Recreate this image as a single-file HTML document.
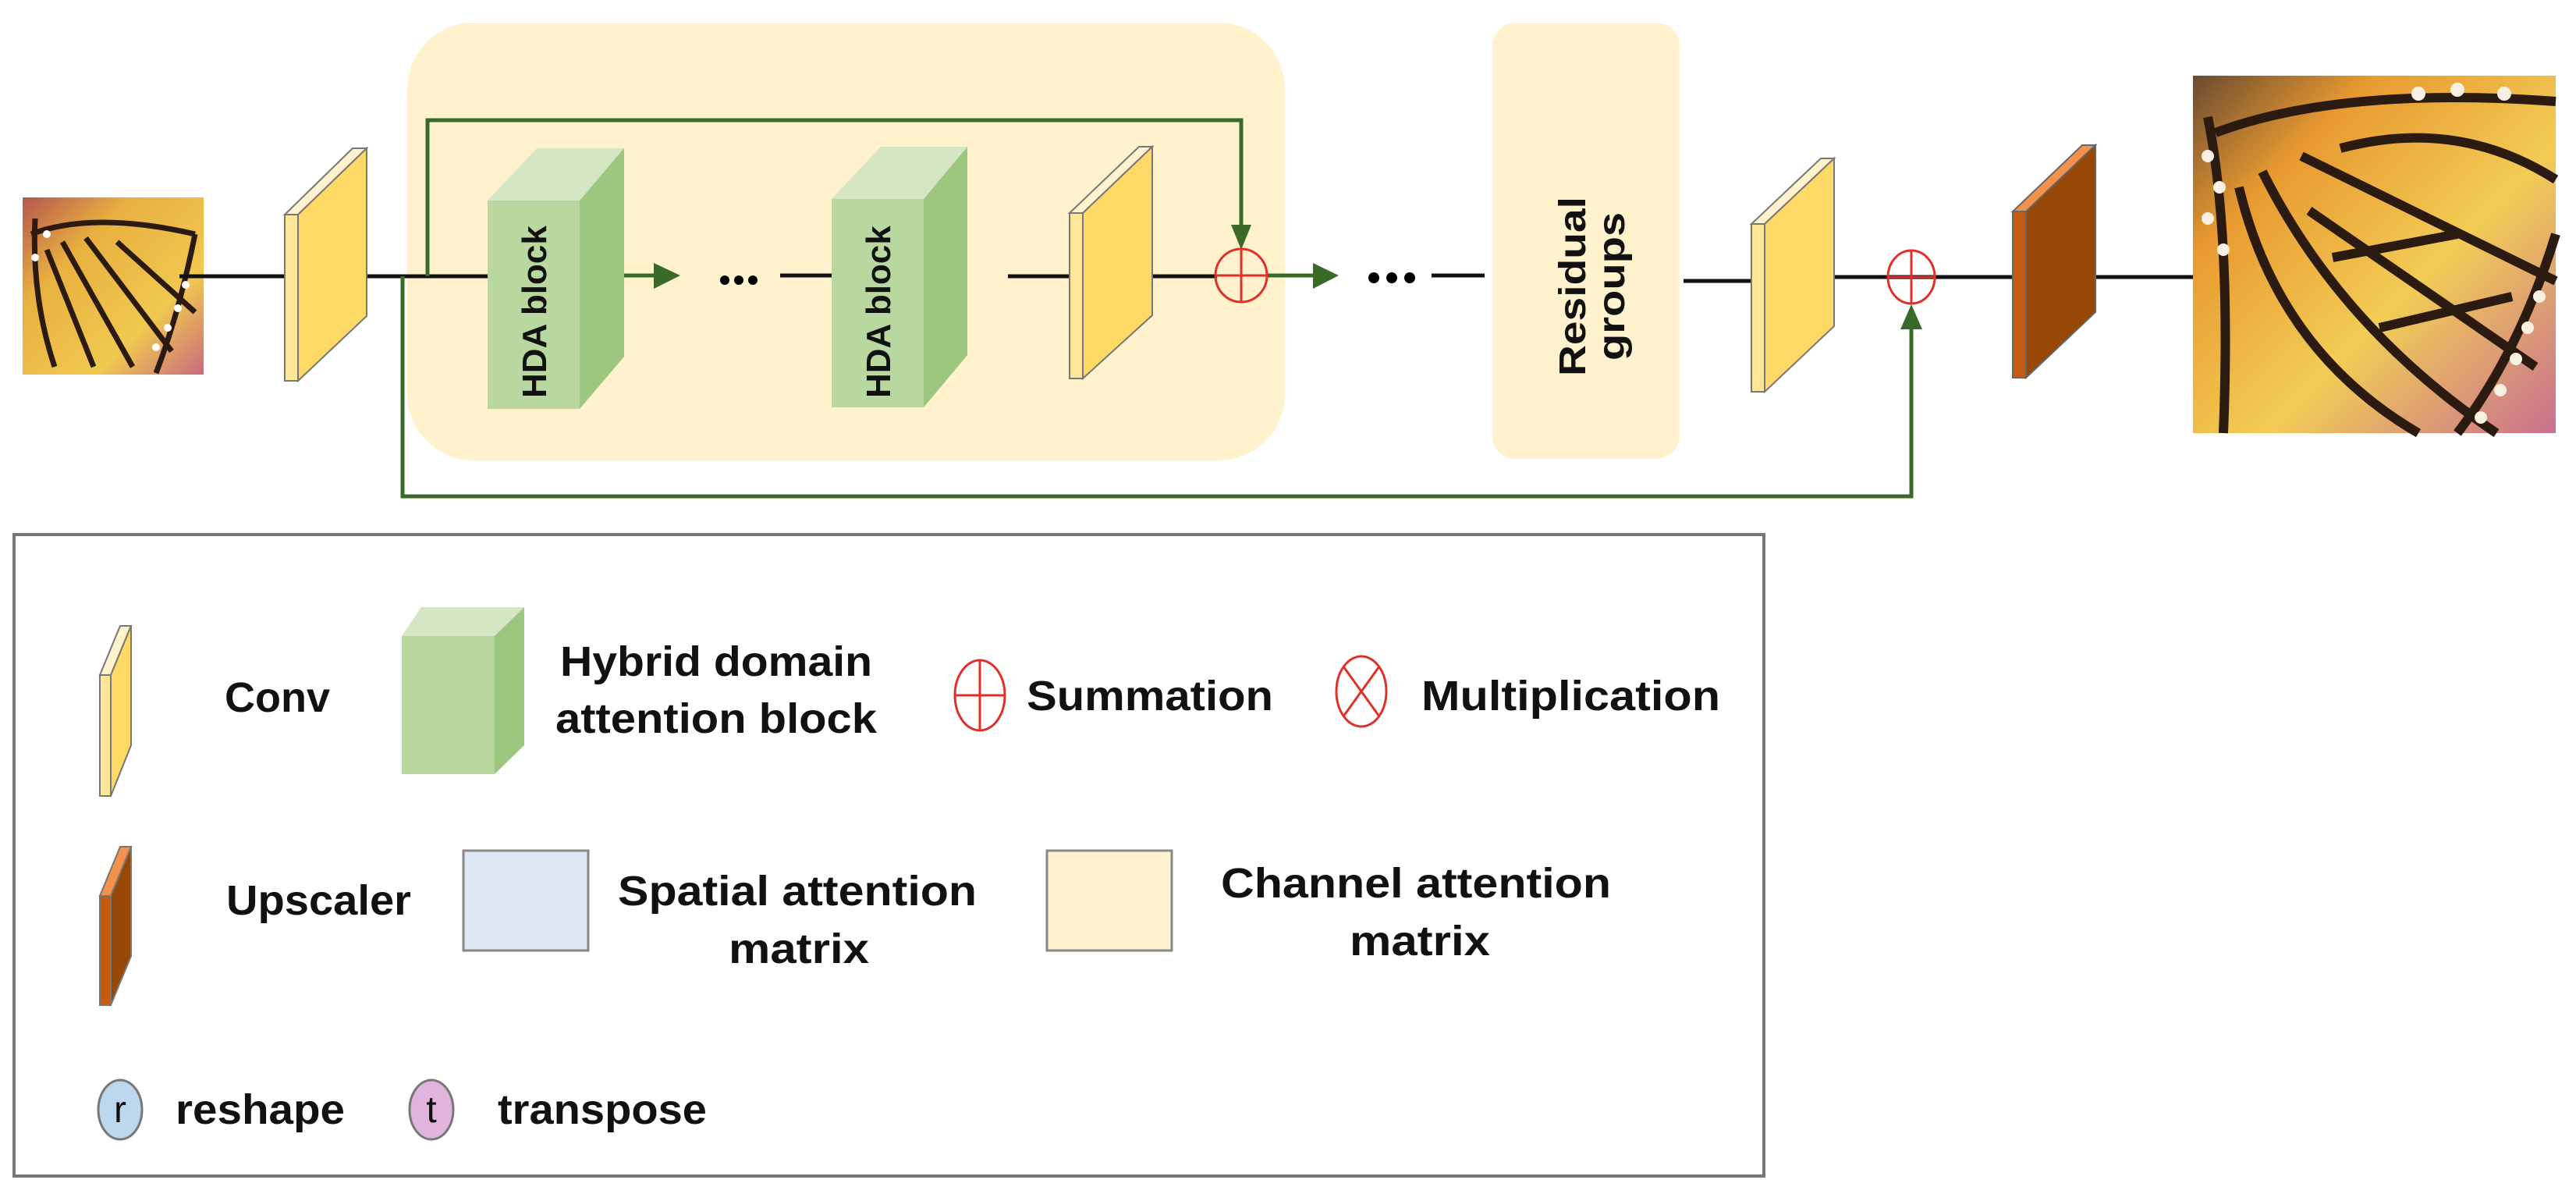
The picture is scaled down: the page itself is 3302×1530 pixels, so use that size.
<!DOCTYPE html>
<html><head><meta charset="utf-8"><style>html,body{margin:0;padding:0;background:#fff}svg{display:block}</style></head>
<body>
<svg width="3302" height="1530" viewBox="0 0 3302 1530" xmlns="http://www.w3.org/2000/svg" font-family="Liberation Sans, Arial, sans-serif" font-weight="bold">
<defs>
<linearGradient id="bf1" x1="0" y1="0" x2="1" y2="1"><stop offset="0" stop-color="#b6564e"/><stop offset="0.3" stop-color="#e8b040"/><stop offset="0.7" stop-color="#f0c850"/><stop offset="1" stop-color="#c86a80"/></linearGradient>
<linearGradient id="bf2" x1="0" y1="0" x2="1" y2="1"><stop offset="0" stop-color="#6a4a30"/><stop offset="0.25" stop-color="#e89a30"/><stop offset="0.6" stop-color="#f2cc55"/><stop offset="1" stop-color="#c87090"/></linearGradient>
</defs>
<rect x="522" y="29" width="1125" height="561" rx="85" fill="#fff2cc"/>
<rect x="1913" y="29" width="240" height="559" rx="30" fill="#fff2cc"/>

<rect x="29" y="253" width="232" height="227" fill="url(#bf1)"/>
<g stroke="#2a1a10" stroke-width="7" fill="none">
<path d="M40 300 Q120 270 250 300"/><path d="M60 320 L120 470"/><path d="M80 310 L170 470"/><path d="M110 305 L220 450"/><path d="M150 310 L250 400"/><path d="M45 280 Q40 380 70 470"/><path d="M250 300 Q230 400 200 478"/>
</g>
<g fill="#fff"><circle cx="215" cy="420" r="5"/><circle cx="228" cy="395" r="5"/><circle cx="238" cy="365" r="5"/><circle cx="200" cy="445" r="5"/><circle cx="60" cy="300" r="5"/><circle cx="45" cy="330" r="5"/></g>

<rect x="2811" y="97" width="465" height="458" fill="url(#bf2)"/>
<g stroke="#2a1a10" stroke-width="12" fill="none">
<path d="M2840 170 Q3000 110 3276 130"/><path d="M2870 240 Q2920 450 3100 555"/><path d="M2900 220 Q3000 420 3200 555"/><path d="M2950 200 L3276 360"/><path d="M2960 270 L3250 470"/><path d="M3000 190 Q3150 150 3276 230"/><path d="M2830 150 Q2860 300 2850 555"/><path d="M3276 300 Q3230 450 3150 555"/><path d="M2990 330 L3150 300"/><path d="M3050 420 L3220 380"/>
</g>
<g fill="#f8f0e0"><circle cx="2830" cy="200" r="8"/><circle cx="2845" cy="240" r="8"/><circle cx="2830" cy="280" r="8"/><circle cx="2850" cy="320" r="8"/><circle cx="3240" cy="420" r="8"/><circle cx="3225" cy="460" r="8"/><circle cx="3205" cy="500" r="8"/><circle cx="3180" cy="535" r="8"/><circle cx="3255" cy="380" r="8"/><circle cx="3100" cy="120" r="9"/><circle cx="3150" cy="115" r="9"/><circle cx="3210" cy="120" r="9"/></g>

<g stroke="#111" stroke-width="5">
<line x1="230" y1="354" x2="365" y2="354"/>
<line x1="428" y1="354" x2="625" y2="354"/>
<line x1="1000" y1="353" x2="1066" y2="353"/>
<line x1="1292" y1="354" x2="1372" y2="354"/>
<line x1="1420" y1="354" x2="1560" y2="354"/>
<line x1="1835" y1="353" x2="1903" y2="353"/>
<line x1="2158" y1="360" x2="2250" y2="360"/>
<line x1="2318" y1="355" x2="2580" y2="355"/>
<line x1="2645" y1="355" x2="2811" y2="355"/>
</g>
<g fill="#000"><circle cx="929" cy="359" r="6"/><circle cx="947" cy="359" r="6"/><circle cx="965" cy="359" r="6"/><circle cx="1761" cy="356" r="7"/><circle cx="1784" cy="356" r="7"/><circle cx="1807" cy="356" r="7"/></g>

<g stroke="#3a6a28" stroke-width="5" fill="none">
<polyline points="548,354 548,154 1591,154 1591,290"/>
<polyline points="516,354 516,636 2450,636 2450,420"/>
<line x1="1624" y1="353" x2="1690" y2="353"/>
<line x1="743" y1="353" x2="840" y2="353"/>
</g>
<g fill="#3a6a28">
<polygon points="1578,288 1604,288 1591,320"/>
<polygon points="1683,337 1683,370 1716,353"/>
<polygon points="838,337 838,370 872,353"/>
<polygon points="2436,422 2464,422 2450,390"/>
</g>

<g stroke="#777" stroke-width="2">
<polygon points="365,275 382,275 470,190 452,190" fill="#fff2cc"/>
<polygon points="382,275 470,190 470,405 382,488" fill="#ffd966"/>
<rect x="365" y="275" width="17" height="213" fill="#ffe699"/>
</g>
<g stroke="#777" stroke-width="2">
<polygon points="1371,273 1388,273 1477,188 1460,188" fill="#fff2cc"/>
<polygon points="1388,273 1477,188 1477,404 1388,485" fill="#ffd966"/>
<rect x="1371" y="273" width="17" height="212" fill="#ffe699"/>
</g>
<g stroke="#777" stroke-width="2">
<polygon points="2245,287 2262,287 2351,203 2334,203" fill="#fff2cc"/>
<polygon points="2262,287 2351,203 2351,418 2262,502" fill="#ffd966"/>
<rect x="2245" y="287" width="17" height="215" fill="#ffe699"/>
</g>
<g stroke="#666" stroke-width="2">
<polygon points="2580,271 2597,271 2686,186 2669,186" fill="#f4914a"/>
<polygon points="2597,271 2686,186 2686,400 2597,484" fill="#974806"/>
<rect x="2580" y="271" width="17" height="213" fill="#c55a11"/>
</g>

<g>
<polygon points="625,257 688,190 800,190 743,257" fill="#d5e6c4"/>
<polygon points="743,257 800,190 800,457 743,524" fill="#9dc77f"/>
<rect x="625" y="257" width="118" height="267" fill="#b8d8a0"/>
<text transform="translate(700,510) rotate(-90)" font-size="44" fill="#111">HDA block</text>
</g>
<g>
<polygon points="1066,255 1129,188 1240,188 1184,255" fill="#d5e6c4"/>
<polygon points="1184,255 1240,188 1240,455 1184,522" fill="#9dc77f"/>
<rect x="1066" y="255" width="118" height="267" fill="#b8d8a0"/>
<text transform="translate(1141,510) rotate(-90)" font-size="44" fill="#111">HDA block</text>
</g>

<text transform="translate(2032,482) rotate(-90)" font-size="48" fill="#111" textLength="230" lengthAdjust="spacingAndGlyphs">Residual</text>
<text transform="translate(2082,462) rotate(-90)" font-size="48" fill="#111" textLength="190" lengthAdjust="spacingAndGlyphs">groups</text>

<g stroke="#e0302a" stroke-width="3" fill="none">
<ellipse cx="1591" cy="353" rx="33" ry="34"/><line x1="1558" y1="353" x2="1624" y2="353"/><line x1="1591" y1="319" x2="1591" y2="387"/>
<ellipse cx="2450" cy="355" rx="30" ry="34"/><line x1="2420" y1="355" x2="2480" y2="355"/><line x1="2450" y1="321" x2="2450" y2="389"/>
</g>

<!-- legend -->
<rect x="18" y="685" width="2243" height="822" fill="#fff" stroke="#777" stroke-width="4"/>
<g stroke="#777" stroke-width="2">
<polygon points="128,865 142,865 168,802 154,802" fill="#fff2cc"/>
<polygon points="142,865 168,802 168,955 142,1020" fill="#ffd966"/>
<rect x="128" y="865" width="14" height="155" fill="#ffe699"/>
<polygon points="128,1148 142,1148 168,1085 154,1085" fill="#f4914a"/>
<polygon points="142,1148 168,1085 168,1225 142,1288" fill="#974806"/>
<rect x="128" y="1148" width="14" height="140" fill="#c55a11"/>
</g>
<polygon points="515,815 540,778 672,778 634,815" fill="#d5e6c4"/>
<polygon points="634,815 672,778 672,955 634,992" fill="#9dc77f"/>
<rect x="515" y="815" width="119" height="177" fill="#b8d8a0"/>
<rect x="594" y="1090" width="160" height="128" fill="#dde6f3" stroke="#888" stroke-width="3"/>
<rect x="1342" y="1090" width="160" height="128" fill="#fff2d0" stroke="#888" stroke-width="3"/>
<g stroke="#e0302a" stroke-width="3" fill="none">
<ellipse cx="1256" cy="891" rx="32" ry="45"/><line x1="1224" y1="891" x2="1288" y2="891"/><line x1="1256" y1="846" x2="1256" y2="936"/>
<ellipse cx="1745" cy="886" rx="32" ry="45"/><line x1="1722" y1="854" x2="1768" y2="918"/><line x1="1768" y1="854" x2="1722" y2="918"/>
</g>
<ellipse cx="154" cy="1422" rx="28" ry="38" fill="#bdd7ee" stroke="#777" stroke-width="3"/>
<ellipse cx="553" cy="1422" rx="28" ry="38" fill="#e0b4dc" stroke="#777" stroke-width="3"/>
<g font-family="Liberation Sans, Arial, sans-serif" font-weight="normal" fill="#111" font-size="48">
<text x="154" y="1438" text-anchor="middle">r</text>
<text x="553" y="1438" text-anchor="middle">t</text>
</g>
<g font-size="54" fill="#111">
<text x="288" y="912" textLength="135" lengthAdjust="spacingAndGlyphs">Conv</text>
<text x="718" y="866" textLength="400" lengthAdjust="spacingAndGlyphs">Hybrid domain</text>
<text x="712" y="939" textLength="412" lengthAdjust="spacingAndGlyphs">attention block</text>
<text x="1316" y="910" textLength="316" lengthAdjust="spacingAndGlyphs">Summation</text>
<text x="1822" y="910" textLength="383" lengthAdjust="spacingAndGlyphs">Multiplication</text>
<text x="290" y="1172" textLength="237" lengthAdjust="spacingAndGlyphs">Upscaler</text>
<text x="792" y="1160" textLength="460" lengthAdjust="spacingAndGlyphs">Spatial attention</text>
<text x="934" y="1234" textLength="180" lengthAdjust="spacingAndGlyphs">matrix</text>
<text x="1565" y="1150" textLength="500" lengthAdjust="spacingAndGlyphs">Channel attention</text>
<text x="1730" y="1224" textLength="180" lengthAdjust="spacingAndGlyphs">matrix</text>
<text x="225" y="1440" textLength="217" lengthAdjust="spacingAndGlyphs">reshape</text>
<text x="638" y="1440" textLength="268" lengthAdjust="spacingAndGlyphs">transpose</text>
</g>
</svg>
</body></html>
